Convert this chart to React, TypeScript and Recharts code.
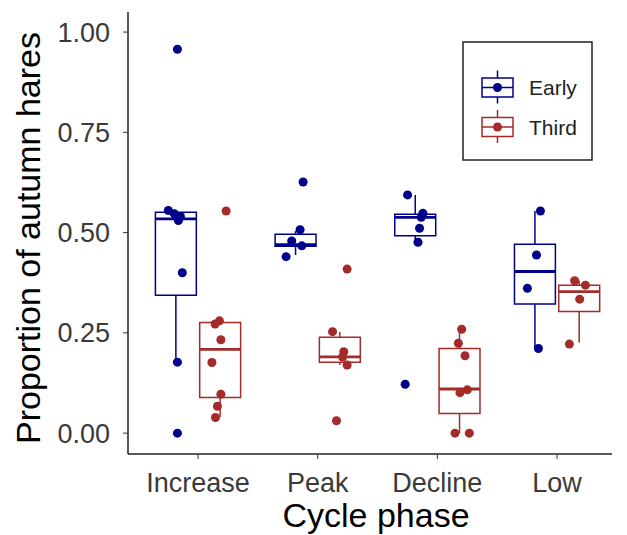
import React from 'react'
import {
  ComposedChart,
  Scatter,
  XAxis,
  YAxis,
  ReferenceArea,
  ReferenceLine,
} from 'recharts'

const phases = ['Increase', 'Peak', 'Decline', 'Low']
const yTicks = [0, 0.25, 0.5, 0.75, 1]

// box stats per phase: [lower whisker, q1, median, q3, upper whisker]
const earlyBoxes = [
  [0.177, 0.344, 0.534, 0.551, 0.551],
  [0.444, 0.466, 0.47, 0.496, 0.504],
  [0.476, 0.492, 0.538, 0.546, 0.594],
  [0.211, 0.322, 0.403, 0.471, 0.554],
]
const thirdBoxes = [
  [0.04, 0.089, 0.209, 0.276, 0.278],
  [0.17, 0.177, 0.19, 0.239, 0.252],
  [0.0, 0.049, 0.11, 0.211, 0.259],
  [0.226, 0.303, 0.353, 0.369, 0.38],
]

// observations: [phase index, proportion, jitter]
const earlyPoints = [
  [0, 0.957, 0.013], [0, 0.555, -0.063], [0, 0.547, -0.013], [0, 0.54, 0.038],
  [0, 0.53, 0.021], [0, 0.4, 0.054], [0, 0.177, 0.013], [0, 0.0, 0.013],
  [1, 0.626, 0.063], [1, 0.507, 0.038], [1, 0.479, -0.032], [1, 0.467, 0.052],
  [1, 0.44, -0.079],
  [2, 0.594, -0.064], [2, 0.548, 0.064], [2, 0.538, 0.05], [2, 0.511, 0.036],
  [2, 0.476, 0.023], [2, 0.122, -0.084],
  [3, 0.554, 0.046], [3, 0.444, 0.013], [3, 0.361, -0.063], [3, 0.211, 0.029],
]
const thirdPoints = [
  [0, 0.554, 0.05], [0, 0.28, -0.006], [0, 0.272, -0.042], [0, 0.233, 0.006],
  [0, 0.176, -0.069], [0, 0.097, 0.006], [0, 0.067, -0.023], [0, 0.039, -0.039],
  [1, 0.409, 0.061], [1, 0.253, -0.061], [1, 0.203, 0.033], [1, 0.19, 0.023],
  [1, 0.17, 0.061], [1, 0.031, -0.028],
  [2, 0.259, 0.018], [2, 0.224, -0.01], [2, 0.193, 0.046], [2, 0.108, 0.065],
  [2, 0.101, 0.004], [2, 0.0, -0.038], [2, 0.0, 0.082],
  [3, 0.38, -0.038], [3, 0.369, 0.052], [3, 0.334, 0.004], [3, 0.222, -0.082],
]

const EARLY = '#00008B'
const THIRD = '#A52A2A'
const DODGE = 0.185
const HALF = 0.171
const FONT = '"Liberation Sans", Arial, sans-serif'

const toScatter = (pts: number[][], shift: number) =>
  pts.map(([i, v, j]) => ({ x: i + 1 + shift + j, y: v }))

function boxElements(boxes: number[][], shift: number, color: string, key: string) {
  const out: React.ReactNode[] = []
  boxes.forEach(([lo, q1, med, q3, hi], i) => {
    const c = i + 1 + shift
    out.push(
      <ReferenceLine key={`${key}wl${i}`} segment={[{ x: c, y: lo }, { x: c, y: q1 }]}
        stroke={color} strokeWidth={1.5} ifOverflow="visible" />,
      <ReferenceLine key={`${key}wh${i}`} segment={[{ x: c, y: q3 }, { x: c, y: hi }]}
        stroke={color} strokeWidth={1.5} ifOverflow="visible" />,
      <ReferenceArea key={`${key}b${i}`} x1={c - HALF} x2={c + HALF} y1={q1} y2={q3}
        fill="none" fillOpacity={0} stroke={color} strokeWidth={1.5} ifOverflow="visible" />,
      <ReferenceLine key={`${key}m${i}`} segment={[{ x: c - HALF, y: med }, { x: c + HALF, y: med }]}
        stroke={color} strokeWidth={2.8} ifOverflow="visible" />
    )
  })
  return out
}

function LegendKey({ y, color, label }: { y: number; color: string; label: string }) {
  return (
    <g>
      <line x1={497.5} x2={497.5} y1={y - 17} y2={y - 9.5} stroke={color} strokeWidth={1.5} />
      <line x1={497.5} x2={497.5} y1={y + 9.5} y2={y + 16} stroke={color} strokeWidth={1.5} />
      <rect x={482} y={y - 9.5} width={31} height={19} fill="none" stroke={color} strokeWidth={1.5} />
      <line x1={482} x2={513} y1={y} y2={y} stroke={color} strokeWidth={1.5} />
      <circle cx={497.5} cy={y} r={4.5} fill={color} />
      <text x={529} y={y + 7.5} fontSize={21} fill="#222" fontFamily={FONT}>{label}</text>
    </g>
  )
}

export default function App() {
  return (
    <div style={{ position: 'absolute', left: 0, top: 0, width: 627, height: 535, background: '#fff' }}>
      <ComposedChart width={627} height={535} margin={{ top: 12, right: 15, left: 0, bottom: 0 }}>
        <XAxis
          type="number"
          dataKey="x"
          domain={[0.415, 4.459]}
          ticks={[1, 2, 3, 4]}
          allowDataOverflow
          tickFormatter={(v) => phases[v - 1]}
          height={81}
          tick={{ fontSize: 27, fill: '#3a3a3a', fontFamily: FONT }}
          tickSize={5}
          tickMargin={14}
          axisLine={{ stroke: '#222', strokeWidth: 1.5 }}
          tickLine={{ stroke: '#333' }}
          label={() => (
            <text x={376} y={527} textAnchor="middle" fontSize={34} fill="#000" fontFamily={FONT}>
              Cycle phase
            </text>
          )}
        />
        <YAxis
          type="number"
          dataKey="y"
          domain={[-0.052, 1.05]}
          ticks={yTicks}
          allowDataOverflow
          tickFormatter={(v) => v.toFixed(2)}
          width={128}
          tick={{ fontSize: 27, fill: '#3a3a3a', fontFamily: FONT }}
          tickSize={5}
          tickMargin={13}
          axisLine={{ stroke: '#222', strokeWidth: 1.5 }}
          tickLine={{ stroke: '#333' }}
          label={() => (
            <text x={40} y={238} transform="rotate(-90 40 238)" textAnchor="middle" fontSize={34}
              fill="#000" fontFamily={FONT}>
              Proportion of autumn hares
            </text>
          )}
        />
        {boxElements(earlyBoxes, -DODGE, EARLY, 'e')}
        {boxElements(thirdBoxes, DODGE, THIRD, 't')}
        <Scatter data={toScatter(earlyPoints, -DODGE)} dataKey="y" fill={EARLY} isAnimationActive={false} />
        <Scatter data={toScatter(thirdPoints, DODGE)} dataKey="y" fill={THIRD} isAnimationActive={false} />
      </ComposedChart>
      <svg width={627} height={535} style={{ position: 'absolute', left: 0, top: 0, pointerEvents: 'none' }}>
        <rect x={463} y={42} width={129} height={118} fill="#fff" stroke="#222" strokeWidth={1.5} />
        <LegendKey y={87.5} color={EARLY} label="Early" />
        <LegendKey y={127} color={THIRD} label="Third" />
      </svg>
    </div>
  )
}
